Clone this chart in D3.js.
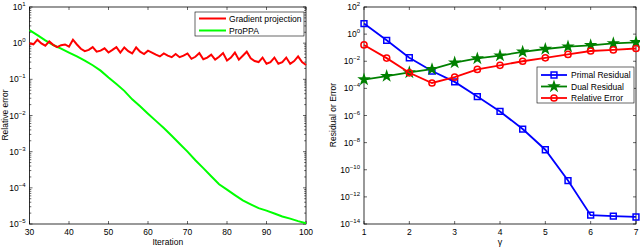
<!DOCTYPE html>
<html><head><meta charset="utf-8">
<script src="https://cdn.jsdelivr.net/npm/d3@7"></script>
<style>body{margin:0;background:#fff}svg{display:block}text{font-family:"Liberation Sans",Arial,sans-serif}</style>
</head><body><svg id="c" width="640" height="248"></svg>
<script>
// ---------- Left chart data ----------
const iterGP = d3.range(30, 101);
const gradProj = [1.00,0.93,1.25,0.98,0.85,1.12,0.90,0.78,0.88,0.92,0.80,1.25,0.92,0.70,0.60,0.65,0.78,0.58,0.62,0.72,0.55,0.65,0.78,0.55,0.76,0.60,0.52,0.76,0.58,0.50,0.62,0.55,0.48,0.43,0.52,0.45,0.41,0.50,0.41,0.45,0.52,0.37,0.42,0.53,0.36,0.40,0.48,0.35,0.42,0.53,0.33,0.40,0.55,0.35,0.45,0.58,0.38,0.32,0.30,0.40,0.27,0.30,0.40,0.27,0.30,0.40,0.27,0.32,0.43,0.30,0.25];
const iterPP = d3.range(30, 101, 2);
const proPPA = [2.29,1.66,1.20,0.89,0.71,0.55,0.43,0.33,0.245,0.174,0.112,0.074,0.048,0.028,0.018,0.0112,0.0071,0.0045,0.00275,0.00166,0.0010,5.8e-4,3.5e-4,2.1e-4,1.26e-4,8.9e-5,6.3e-5,4.5e-5,3.5e-5,2.75e-5,2.35e-5,1.95e-5,1.62e-5,1.41e-5,1.2e-5,1.05e-5];
const leftXTicks = [30,40,50,60,70,80,90,100];
const leftYExp = [1,0,-1,-2,-3,-4,-5];

// ---------- Right chart data ----------
const gamma = [1,1.5,2,2.5,3,3.5,4,4.5,5,5.5,6,6.5,7];
const primal = [6,0.35,0.018,0.0019,3e-4,2.5e-5,2e-6,1e-7,3e-9,1.6e-11,4.5e-14,3.8e-14,3.3e-14];
const dual = [4.5e-4,8e-4,1.5e-3,2.6e-3,8e-3,0.016,0.026,0.05,0.08,0.12,0.15,0.21,0.25];
const relErr = [0.16,0.017,1.4e-3,2.5e-4,6.7e-4,2.5e-3,5e-3,0.01,0.018,0.032,0.057,0.068,0.087];
const rightXTicks = [1,2,3,4,5,6,7];
const rightYExp = [2,0,-2,-4,-6,-8,-10,-12,-14];

const svg = d3.select("#c");
const TOP = 7, BOT = 224;

function supTick(g, exps, y, xAxis){
  exps.forEach(e=>{
    const t = g.append("text").attr("x", xAxis-4).attr("y", y(Math.pow(10,e))+3)
      .attr("text-anchor","end").attr("font-size",8.5).attr("fill","#000");
    t.append("tspan").text("10");
    t.append("tspan").attr("dy",-4).attr("font-size",6).text(String(e).replace("-","\u2212"));
  });
}

function frame(g, x, y, x0, x1, xt, ticksY, minor){
  g.append("rect").attr("x",x0).attr("y",TOP).attr("width",x1-x0).attr("height",BOT-TOP)
   .attr("fill","#fff").attr("stroke","#000").attr("stroke-width",0.8);
  const tk = g.append("g").attr("stroke","#000").attr("stroke-width",0.6);
  xt.forEach(v=>{
    tk.append("line").attr("x1",x(v)).attr("x2",x(v)).attr("y1",BOT).attr("y2",BOT-3);
    tk.append("line").attr("x1",x(v)).attr("x2",x(v)).attr("y1",TOP).attr("y2",TOP+3);
    g.append("text").attr("x",x(v)).attr("y",BOT+11).attr("text-anchor","middle").attr("font-size",8.5).text(v);
  });
  ticksY.forEach(e=>{
    const yy=y(Math.pow(10,e));
    tk.append("line").attr("x1",x0).attr("x2",x0+3).attr("y1",yy).attr("y2",yy);
    tk.append("line").attr("x1",x1).attr("x2",x1-3).attr("y1",yy).attr("y2",yy);
  });
  if(minor){
    const [lo,hi]=d3.extent(ticksY);
    for(let e=lo;e<hi;e++) for(let m=2;m<10;m++){
      const yy=y(m*Math.pow(10,e));
      tk.append("line").attr("x1",x0).attr("x2",x0+1.8).attr("y1",yy).attr("y2",yy);
      tk.append("line").attr("x1",x1).attr("x2",x1-1.8).attr("y1",yy).attr("y2",yy);
    }
  }
}

// ---------- Left chart ----------
{
  const x0=29.5, x1=306;
  const x = d3.scaleLinear().domain([30,100]).range([x0,x1]);
  const y = d3.scaleLog().domain([1e-5,10]).range([BOT,TOP]);
  const g = svg.append("g");
  frame(g,x,y,x0,x1,leftXTicks,leftYExp,true);
  supTick(g,leftYExp,y,x0);
  const line = d3.line().x(d=>x(d[0])).y(d=>y(d[1]));
  g.append("path").datum(iterPP.map((v,i)=>[v,proPPA[i]])).attr("d",line)
   .attr("fill","none").attr("stroke","#00ff00").attr("stroke-width",2);
  g.append("path").datum(iterGP.map((v,i)=>[v,gradProj[i]])).attr("d",line)
   .attr("fill","none").attr("stroke","#ff0000").attr("stroke-width",2);
  g.append("text").attr("x",(x0+x1)/2).attr("y",245).attr("text-anchor","middle").attr("font-size",8.5).text("Iteration");
  g.append("text").attr("transform","translate(8,115) rotate(-90)").attr("text-anchor","middle").attr("font-size",8.5).text("Relative error");
  // legend
  const lg = g.append("g");
  lg.append("rect").attr("x",195).attr("y",12).attr("width",109).attr("height",24).attr("fill","#fff").attr("stroke","#000").attr("stroke-width",0.6);
  [["Gradient projection","#ff0000"],["ProPPA","#00ff00"]].forEach((d,i)=>{
    const yy=18.5+i*12;
    lg.append("line").attr("x1",199).attr("x2",226).attr("y1",yy).attr("y2",yy).attr("stroke",d[1]).attr("stroke-width",2);
    lg.append("text").attr("x",229).attr("y",yy+3).attr("font-size",8.6).text(d[0]);
  });
}

// ---------- Right chart ----------
{
  const x0=364, x1=636;
  const x = d3.scaleLinear().domain([1,7]).range([x0,x1]);
  const y = d3.scaleLog().domain([1e-14,100]).range([BOT,TOP]);
  const g = svg.append("g");
  frame(g,x,y,x0,x1,rightXTicks,rightYExp,false);
  supTick(g,rightYExp,y,x0);
  const line = d3.line().x(d=>x(d[0])).y(d=>y(d[1]));
  const series = [
    {v:primal,c:"#0000ff",m:"square"},
    {v:dual,c:"#008000",m:"star"},
    {v:relErr,c:"#ff0000",m:"circle"}];
  const sym = {square:d3.symbol().type(d3.symbolSquare).size(34),
               star:d3.symbol().type(d3.symbolStar).size(24),
               circle:d3.symbol().type(d3.symbolCircle).size(30)};
  series.forEach(s=>{
    const pts = gamma.map((gm,i)=>[gm,s.v[i]]);
    g.append("path").datum(pts).attr("d",line).attr("fill","none").attr("stroke",s.c).attr("stroke-width",1.8);
    g.selectAll(null).data(pts).enter().append("path")
      .attr("transform",d=>`translate(${x(d[0])},${y(d[1])})`).attr("d",sym[s.m])
      .attr("fill",s.m==="star"?s.c:"none").attr("stroke",s.c).attr("stroke-width",1.5);
  });
  g.append("text").attr("x",(x0+x1)/2).attr("y",245).attr("text-anchor","middle").attr("font-size",9).text("γ");
  g.append("text").attr("transform","translate(336,115) rotate(-90)").attr("text-anchor","middle").attr("font-size",8.5).text("Residual or Error");
  const lg = g.append("g");
  lg.append("rect").attr("x",537).attr("y",67).attr("width",97).attr("height",36).attr("fill","#fff").attr("stroke","#000").attr("stroke-width",0.6);
  [["Primal Residual",series[0]],["Dual Residual",series[1]],["Relative Error",series[2]]].forEach((d,i)=>{
    const yy=75+i*11.5;
    lg.append("line").attr("x1",541).attr("x2",567).attr("y1",yy).attr("y2",yy).attr("stroke",d[1].c).attr("stroke-width",1.8);
    lg.append("path").attr("transform",`translate(554,${yy})`).attr("d",sym[d[1].m])
      .attr("fill",d[1].m==="star"?d[1].c:"none").attr("stroke",d[1].c).attr("stroke-width",1.5);
    lg.append("text").attr("x",571).attr("y",yy+3).attr("font-size",8.5).text(d[0]);
  });
}
</script></body></html>
